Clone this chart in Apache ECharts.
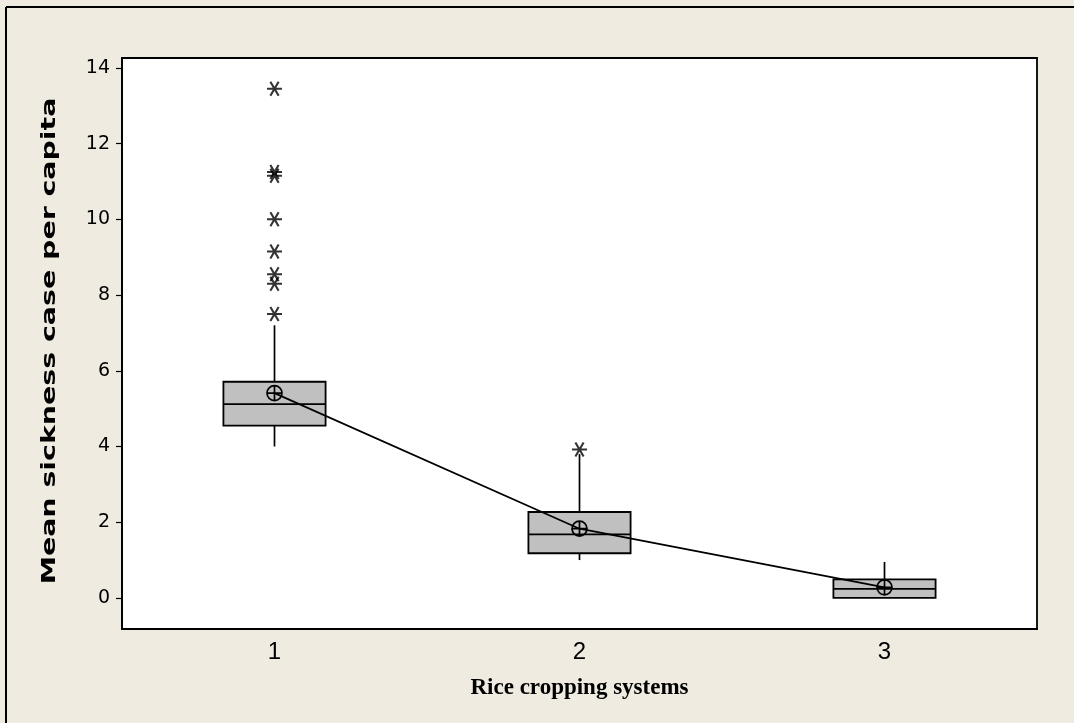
<!DOCTYPE html>
<html>
<head>
<meta charset="utf-8">
<script src="https://cdn.jsdelivr.net/npm/echarts@6/dist/echarts.min.js"></script>
<style>html,body{margin:0;padding:0;background:#EFEBE1;}#c{width:1074px;height:723px;}</style>
</head>
<body>
<div id="c"></div>
<script>
// ---- data ----
var categories = ['1', '2', '3'];
// [lowerWhisker, Q1, median, Q3, upperWhisker]
var boxStats = [
  [4.0, 4.55, 5.12, 5.71, 7.2],
  [1.0, 1.18, 1.68, 2.27, 3.8],
  [0.0, 0.0, 0.24, 0.49, 0.95]
];
var means = [5.41, 1.83, 0.28];
// outliers: [categoryIndex, value]
var outliers = [
  [0, 13.45], [0, 11.25], [0, 11.15], [0, 10.0], [0, 9.15], [0, 8.55], [0, 8.3], [0, 7.5],
  [1, 3.92]
];
var yTicks = [0, 2, 4, 6, 8, 10, 12, 14];
var xTitle = 'Rice cropping systems';
var yTitle = 'Mean sickness case per capita';

var chart = echarts.init(document.getElementById('c'), null, {renderer: 'canvas'});

var BOX_FRAC = 0.335;
var option = {
  backgroundColor: '#EFEBE1',
  animation: false,
  graphic: [
    {type: 'line', shape: {x1: 6, y1: 7, x2: 1074, y2: 7}, style: {stroke: '#000', lineWidth: 2}},
    {type: 'line', shape: {x1: 6, y1: 7, x2: 6, y2: 723}, style: {stroke: '#000', lineWidth: 2}},
    {type: 'text', x: 50, y: 341, rotation: Math.PI / 2, scaleX: 1.42, scaleY: 1,
      style: {text: yTitle, fill: '#000', font: 'bold 20px "DejaVu Sans", sans-serif',
        textAlign: 'center', textVerticalAlign: 'middle'}}
  ],
  grid: {
    left: 122, right: 37, top: 58, bottom: 94,
    show: true, backgroundColor: '#fff', borderColor: '#000', borderWidth: 1.8
  },
  xAxis: {
    type: 'category',
    data: categories,
    boundaryGap: true,
    axisLine: {onZero: false, lineStyle: {color: '#000', width: 1.8}},
    axisTick: {alignWithLabel: true, length: 6, lineStyle: {color: '#000', width: 1.2}},
    axisLabel: {color: '#000', fontSize: 24, margin: 11, fontFamily: '"Liberation Sans Narrow", "Liberation Sans", sans-serif'},
    name: xTitle,
    nameLocation: 'middle',
    nameGap: 48,
    nameTextStyle: {color: '#000', fontSize: 23, fontWeight: 'bold', fontFamily: '"Liberation Serif", serif'}
  },
  yAxis: {
    type: 'value',
    min: -0.82,
    max: 14.26,
    axisLine: {show: true, onZero: false, lineStyle: {color: '#000', width: 1.8}},
    axisTick: {show: true, length: 6, customValues: yTicks, lineStyle: {color: '#000', width: 1.2}},
    axisLabel: {color: '#000', fontSize: 19, margin: 12, customValues: yTicks, fontFamily: '"DejaVu Sans", sans-serif'},
    splitLine: {show: false}
  },
  series: [
    {
      type: 'custom',
      data: boxStats.map(function (s, i) { return [i].concat(s); }),
      encode: {x: 0, y: [1, 2, 3, 4, 5]},
      renderItem: function (params, api) {
        var i = api.value(0);
        var lo = api.coord([i, api.value(1)]);
        var q1 = api.coord([i, api.value(2)]);
        var med = api.coord([i, api.value(3)]);
        var q3 = api.coord([i, api.value(4)]);
        var hi = api.coord([i, api.value(5)]);
        var w = api.size([1, 0])[0] * BOX_FRAC;
        var cx = lo[0];
        var ls = {stroke: '#000', lineWidth: 1.7};
        var children = [];
        if (hi[1] < q3[1]) children.push({type: 'line', shape: {x1: cx, y1: q3[1], x2: cx, y2: hi[1]}, style: ls});
        if (lo[1] > q1[1]) children.push({type: 'line', shape: {x1: cx, y1: q1[1], x2: cx, y2: lo[1]}, style: ls});
        children.push({type: 'rect', shape: {x: cx - w / 2, y: q3[1], width: w, height: q1[1] - q3[1]},
          style: {fill: '#C0C0C0', stroke: '#000', lineWidth: 1.8}});
        children.push({type: 'line', shape: {x1: cx - w / 2, y1: med[1], x2: cx + w / 2, y2: med[1]}, style: ls});
        return {type: 'group', children: children};
      },
      z: 2
    },
    {
      type: 'line',
      data: means,
      symbol: 'path://M0,-7 A7,7 0 1,1 0,7 A7,7 0 1,1 0,-7 Z M-7,0 L7,0 M0,-7 L0,7',
      symbolSize: 15,
      lineStyle: {color: '#000', width: 1.7},
      itemStyle: {color: 'rgba(0,0,0,0)', borderColor: '#000', borderWidth: 1.7},
      z: 5
    },
    {
      type: 'scatter',
      data: outliers,
      symbol: 'path://M-6,0 L6,0 M-3.3,-5.5 L3.3,5.5 M-3.3,5.5 L3.3,-5.5',
      symbolSize: [15, 14],
      itemStyle: {color: 'rgba(0,0,0,0)', borderColor: '#000', borderWidth: 2},
      z: 4
    }
  ]
};
chart.setOption(option);
</script>
</body>
</html>
